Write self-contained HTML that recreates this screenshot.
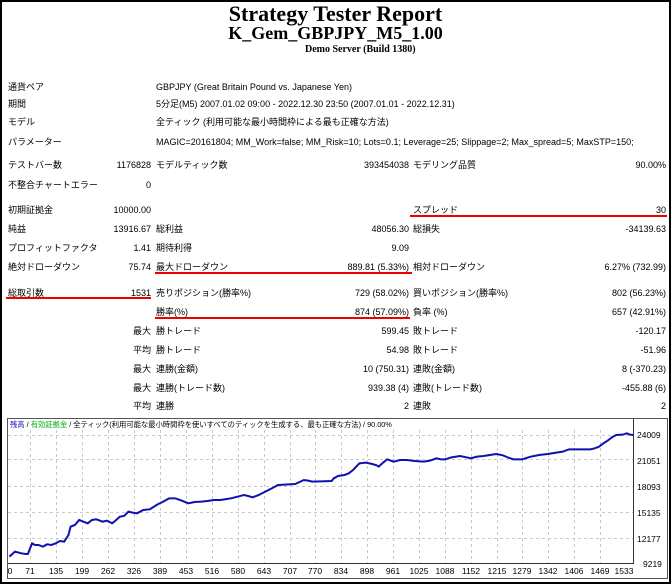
<!DOCTYPE html>
<html><head><meta charset="utf-8"><style>
body{margin:0;width:671px;height:584px;position:relative;background:#fff;font-family:"Liberation Sans","Noto Sans CJK JP",sans-serif;font-size:9px;color:#000;overflow:hidden}
.t{position:absolute;white-space:nowrap;line-height:12px}
.r{text-align:right}
.ser{font-family:"Liberation Serif","Noto Serif CJK SC",serif;font-weight:bold;position:absolute;white-space:nowrap}
.red{position:absolute;height:2px;background:#e00}
</style></head><body>
<div style="position:absolute;left:0;top:0;width:667px;height:580px;border:2px solid #000"></div>
<div class="ser" style="left:0;width:671px;text-align:center;top:1px;font-size:22px">Strategy Tester Report</div>
<div class="ser" style="left:0;width:671px;text-align:center;top:23px;font-size:18px">K_Gem_GBPJPY_M5_1.00</div>
<div class="ser" style="left:305px;top:44px;font-size:10px">Demo Server (Build 1380)</div>

<div class="t" style="left:8px;top:81px">通貨ペア</div><div class="t" style="left:156px;top:81px">GBPJPY (Great Britain Pound vs. Japanese Yen)</div>
<div class="t" style="left:8px;top:98px">期間</div><div class="t" style="left:156px;top:98px">5分足(M5) 2007.01.02 09:00 - 2022.12.30 23:50 (2007.01.01 - 2022.12.31)</div>
<div class="t" style="left:8px;top:116px">モデル</div><div class="t" style="left:156px;top:116px">全ティック (利用可能な最小時間枠による最も正確な方法)</div>
<div class="t" style="left:8px;top:136px">パラメーター</div><div class="t" style="left:156px;top:136px">MAGIC=20161804; MM_Work=false; MM_Risk=10; Lots=0.1; Leverage=25; Slippage=2; Max_spread=5; MaxSTP=150;</div>
<div class="t" style="left:8px;top:159px">テストバー数</div><div class="t r" style="right:520px;top:159px">1176828</div>
<div class="t" style="left:156px;top:159px">モデルティック数</div><div class="t r" style="right:262px;top:159px">393454038</div>
<div class="t" style="left:413px;top:159px">モデリング品質</div><div class="t r" style="right:5px;top:159px">90.00%</div>
<div class="t" style="left:8px;top:179px">不整合チャートエラー</div><div class="t r" style="right:520px;top:179px">0</div>

<div class="t" style="left:8px;top:204px">初期証拠金</div><div class="t r" style="right:520px;top:204px">10000.00</div>
<div class="t" style="left:413px;top:204px">スプレッド</div><div class="t r" style="right:5px;top:204px">30</div>
<div class="red" style="left:410px;width:257px;top:215px"></div>
<div class="t" style="left:8px;top:223px">純益</div><div class="t r" style="right:520px;top:223px">13916.67</div>
<div class="t" style="left:156px;top:223px">総利益</div><div class="t r" style="right:262px;top:223px">48056.30</div>
<div class="t" style="left:413px;top:223px">総損失</div><div class="t r" style="right:5px;top:223px">-34139.63</div>
<div class="t" style="left:8px;top:242px">プロフィットファクタ</div><div class="t r" style="right:520px;top:242px">1.41</div>
<div class="t" style="left:156px;top:242px">期待利得</div><div class="t r" style="right:262px;top:242px">9.09</div>
<div class="t" style="left:8px;top:261px">絶対ドローダウン</div><div class="t r" style="right:520px;top:261px">75.74</div>
<div class="t" style="left:156px;top:261px">最大ドローダウン</div><div class="t r" style="right:262px;top:261px">889.81 (5.33%)</div>
<div class="red" style="left:155px;width:257px;top:272px"></div>
<div class="t" style="left:413px;top:261px">相対ドローダウン</div><div class="t r" style="right:5px;top:261px">6.27% (732.99)</div>
<div class="t" style="left:8px;top:287px">総取引数</div><div class="t r" style="right:520px;top:287px">1531</div>
<div class="red" style="left:6px;width:145px;top:297px"></div>
<div class="t" style="left:156px;top:287px">売りポジション(勝率%)</div><div class="t r" style="right:262px;top:287px">729 (58.02%)</div>
<div class="t" style="left:413px;top:287px">買いポジション(勝率%)</div><div class="t r" style="right:5px;top:287px">802 (56.23%)</div>
<div class="t" style="left:156px;top:306px">勝率(%)</div><div class="t r" style="right:262px;top:306px">874 (57.09%)</div>
<div class="red" style="left:155px;width:255px;top:317px"></div>
<div class="t" style="left:413px;top:306px">負率 (%)</div><div class="t r" style="right:5px;top:306px">657 (42.91%)</div>
<div class="t r" style="right:520px;top:325px">最大</div><div class="t" style="left:156px;top:325px">勝トレード</div><div class="t r" style="right:262px;top:325px">599.45</div><div class="t" style="left:413px;top:325px">敗トレード</div><div class="t r" style="right:5px;top:325px">-120.17</div>
<div class="t r" style="right:520px;top:344px">平均</div><div class="t" style="left:156px;top:344px">勝トレード</div><div class="t r" style="right:262px;top:344px">54.98</div><div class="t" style="left:413px;top:344px">敗トレード</div><div class="t r" style="right:5px;top:344px">-51.96</div>
<div class="t r" style="right:520px;top:363px">最大</div><div class="t" style="left:156px;top:363px">連勝(金額)</div><div class="t r" style="right:262px;top:363px">10 (750.31)</div><div class="t" style="left:413px;top:363px">連敗(金額)</div><div class="t r" style="right:5px;top:363px">8 (-370.23)</div>
<div class="t r" style="right:520px;top:382px">最大</div><div class="t" style="left:156px;top:382px">連勝(トレード数)</div><div class="t r" style="right:262px;top:382px">939.38 (4)</div><div class="t" style="left:413px;top:382px">連敗(トレード数)</div><div class="t r" style="right:5px;top:382px">-455.88 (6)</div>
<div class="t r" style="right:520px;top:400px">平均</div><div class="t" style="left:156px;top:400px">連勝</div><div class="t r" style="right:262px;top:400px">2</div><div class="t" style="left:413px;top:400px">連敗</div><div class="t r" style="right:5px;top:400px">2</div>

<svg style="position:absolute;left:0;top:0" width="671" height="584">
<rect x="7.5" y="418.5" width="660" height="160" fill="none" stroke="#555" stroke-width="1"/>
<g stroke="#c8c8c8" stroke-dasharray="3,3" stroke-width="1">
<line x1="8" y1="435.5" x2="634" y2="435.5"/><line x1="8" y1="459.5" x2="634" y2="459.5"/><line x1="8" y1="486.5" x2="634" y2="486.5"/><line x1="8" y1="512.5" x2="634" y2="512.5"/><line x1="8" y1="538.5" x2="634" y2="538.5"/>
<line x1="30.5" y1="430" x2="30.5" y2="563"/><line x1="56.5" y1="430" x2="56.5" y2="563"/><line x1="82.5" y1="430" x2="82.5" y2="563"/><line x1="108.5" y1="430" x2="108.5" y2="563"/><line x1="134.5" y1="430" x2="134.5" y2="563"/><line x1="160.5" y1="430" x2="160.5" y2="563"/><line x1="186.5" y1="430" x2="186.5" y2="563"/><line x1="212.5" y1="430" x2="212.5" y2="563"/><line x1="238.5" y1="430" x2="238.5" y2="563"/><line x1="264.5" y1="430" x2="264.5" y2="563"/><line x1="290.5" y1="430" x2="290.5" y2="563"/><line x1="315.5" y1="430" x2="315.5" y2="563"/><line x1="341.5" y1="430" x2="341.5" y2="563"/><line x1="367.5" y1="430" x2="367.5" y2="563"/><line x1="393.5" y1="430" x2="393.5" y2="563"/><line x1="419.5" y1="430" x2="419.5" y2="563"/><line x1="445.5" y1="430" x2="445.5" y2="563"/><line x1="471.5" y1="430" x2="471.5" y2="563"/><line x1="497.5" y1="430" x2="497.5" y2="563"/><line x1="522.5" y1="430" x2="522.5" y2="563"/><line x1="548.5" y1="430" x2="548.5" y2="563"/><line x1="574.5" y1="430" x2="574.5" y2="563"/><line x1="600.5" y1="430" x2="600.5" y2="563"/>
</g>
<line x1="8" y1="563.5" x2="634" y2="563.5" stroke="#333"/>
<line x1="633.5" y1="419" x2="633.5" y2="564" stroke="#333"/>
<g transform="translate(0,410) scale(0.4279,0.3333)">
<polyline fill="none" stroke="#1010b0" stroke-width="2" vector-effect="non-scaling-stroke" points="22,440 35,425 50,430 60,432 65,432 75,400 82,405 90,405 100,410 110,403 120,405 130,400 140,393 150,395 160,375 165,350 175,345 185,330 195,335 205,340 215,330 225,328 240,335 250,332 262,340 270,332 280,320 290,318 300,305 310,308 320,310 335,300 350,298 360,290 370,282 380,276 395,265 410,265 425,272 440,280 455,276 470,275 485,273 500,270 515,270 530,267 540,265 555,260 570,255 580,258 590,262 605,255 620,245 635,235 650,225 665,224 690,222 700,216 710,210 720,212 730,215 750,214 775,213 780,205 790,198 805,195 815,190 825,180 840,160 855,158 870,162 880,166 885,170 895,158 905,148 920,155 935,150 950,150 970,153 990,155 1005,152 1020,145 1030,148 1040,148 1055,142 1075,138 1090,142 1100,145 1115,140 1130,138 1145,135 1160,132 1175,136 1190,144 1200,148 1220,148 1240,140 1260,135 1280,132 1300,128 1315,125 1330,118 1350,118 1380,118 1390,115 1400,110 1410,100 1420,92 1430,82 1440,75 1455,74 1465,70 1472,74 1480,75"/>
</g>
<g font-family="Liberation Sans, sans-serif" font-size="8.5" fill="#000">
<text x="637" y="438">24009</text><text x="637" y="464">21051</text><text x="637" y="490">18093</text><text x="637" y="516">15135</text><text x="637" y="542">12177</text><text x="643" y="567">9219</text>
<g text-anchor="middle">
<text x="10" y="574">0</text><text x="30" y="574">71</text><text x="56" y="574">135</text><text x="82" y="574">199</text><text x="108" y="574">262</text><text x="134" y="574">326</text><text x="160" y="574">389</text><text x="186" y="574">453</text><text x="212" y="574">516</text><text x="238" y="574">580</text><text x="264" y="574">643</text><text x="290" y="574">707</text><text x="315" y="574">770</text><text x="341" y="574">834</text><text x="367" y="574">898</text><text x="393" y="574">961</text><text x="419" y="574">1025</text><text x="445" y="574">1088</text><text x="471" y="574">1152</text><text x="497" y="574">1215</text><text x="522" y="574">1279</text><text x="548" y="574">1342</text><text x="574" y="574">1406</text><text x="600" y="574">1469</text><text x="624" y="574">1533</text>
</g>
<text x="10" y="427" font-size="7.3" font-family="Liberation Sans, Noto Sans CJK JP, sans-serif"><tspan fill="#1010b0">残高</tspan> / <tspan fill="#0a0">有効証拠金</tspan> / 全ティック(利用可能な最小時間枠を使いすべてのティックを生成する、最も正確な方法) / 90.00%</text>
</g>
</svg>
</body></html>
